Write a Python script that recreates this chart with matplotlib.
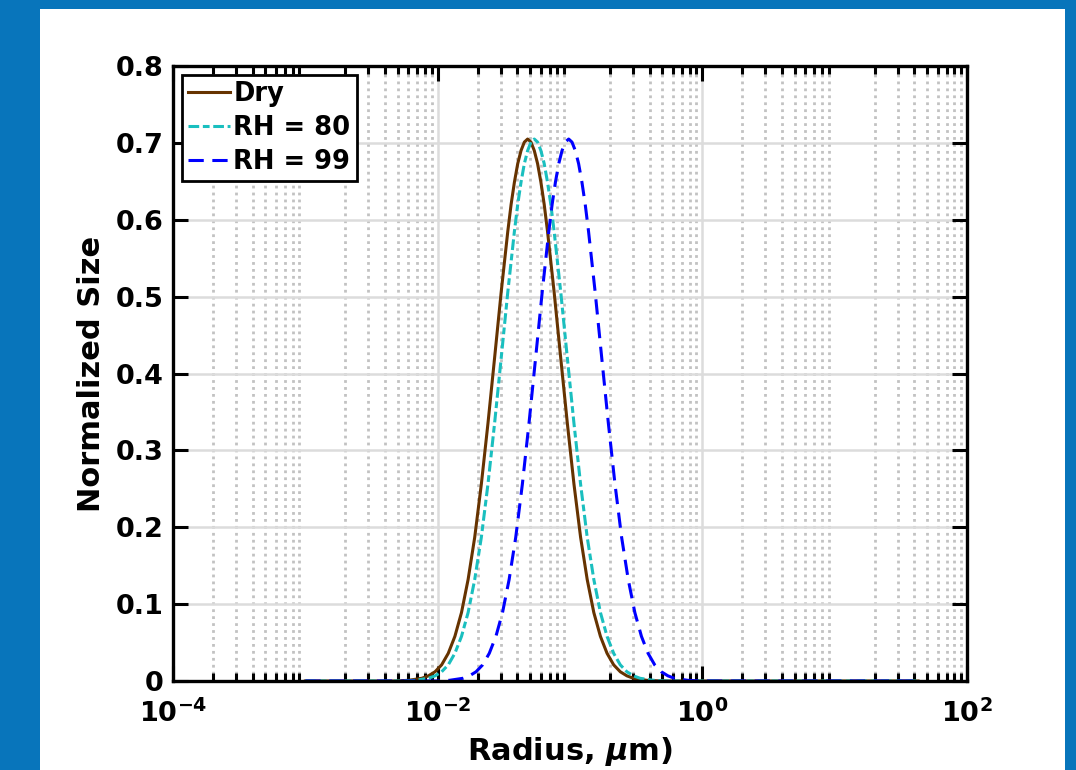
#!/usr/bin/env python3
"""Normalized aerosol size distribution: dry vs. humidified (RH = 80, 99)."""

import numpy as np
import matplotlib
matplotlib.use("Agg")
import matplotlib.pyplot as plt
from matplotlib.patches import Rectangle
from matplotlib.ticker import LogLocator, FuncFormatter

# ── Data (log10 of radius in um, normalized size) ────────────────────────────
size_norm = [0.0, 0.0, 0.0009, 0.0035, 0.0067, 0.012, 0.021, 0.036, 0.058,
             0.089, 0.132, 0.187, 0.256, 0.335, 0.420, 0.506, 0.585, 0.620,
             0.649, 0.673, 0.690, 0.701, 0.705, 0.701, 0.690, 0.673, 0.649,
             0.620, 0.585, 0.506, 0.420, 0.335, 0.256, 0.187, 0.132, 0.089,
             0.058, 0.036, 0.021, 0.012, 0.0067, 0.0035, 0.0009, 0.0, 0.0]

logr_dry = [-3.0, -2.32, -2.22, -2.12, -2.07, -2.02, -1.97, -1.92, -1.87,
            -1.82, -1.77, -1.72, -1.67, -1.62, -1.57, -1.52, -1.47, -1.445,
            -1.42, -1.395, -1.37, -1.345, -1.32, -1.295, -1.27, -1.245, -1.22,
            -1.195, -1.17, -1.12, -1.07, -1.02, -0.97, -0.92, -0.87, -0.82,
            -0.77, -0.72, -0.67, -0.62, -0.57, -0.52, -0.42, -0.32, 1.63]

logr_rh80 = [-3.0, -2.27, -2.17, -2.07, -2.02, -1.97, -1.92, -1.87, -1.82,
             -1.77, -1.72, -1.67, -1.62, -1.57, -1.52, -1.47, -1.42, -1.395,
             -1.37, -1.345, -1.32, -1.295, -1.27, -1.245, -1.22, -1.195, -1.17,
             -1.145, -1.12, -1.07, -1.02, -0.97, -0.92, -0.87, -0.82, -0.77,
             -0.72, -0.67, -0.62, -0.57, -0.52, -0.47, -0.37, -0.27, 1.63]

logr_rh99 = [-3.0, -2.01, -1.91, -1.81, -1.76, -1.71, -1.66, -1.61, -1.56,
             -1.51, -1.46, -1.41, -1.36, -1.31, -1.26, -1.21, -1.16, -1.135,
             -1.11, -1.085, -1.06, -1.035, -1.01, -0.985, -0.96, -0.935, -0.91,
             -0.885, -0.86, -0.81, -0.76, -0.71, -0.66, -0.61, -0.56, -0.51,
             -0.46, -0.41, -0.36, -0.31, -0.26, -0.21, -0.11, -0.01, 1.63]

labels = ["Dry", "RH = 80", "RH = 99"]
y_ticks = [0, 0.1, 0.2, 0.3, 0.4, 0.5, 0.6, 0.7, 0.8]

# ── Style ─────────────────────────────────────────────────────────────────────
plt.rcParams["font.family"] = ["DejaVu Sans"]
plt.rcParams["font.weight"] = "bold"
plt.rcParams["mathtext.fontset"] = "dejavusans"
plt.rcParams["mathtext.default"] = "bf"

fig = plt.figure(figsize=(10.76, 7.70), dpi=100, facecolor="#0875bb")
fig.patches.append(Rectangle((40 / 1076, 0), (1065 - 40) / 1076, (770 - 9) / 770,
                             transform=fig.transFigure, facecolor="white",
                             edgecolor="none", zorder=-5))

ax = fig.add_axes([173 / 1076, 89 / 770, 794 / 1076, 615 / 770])
ax.set_zorder(2)

ax.plot(10 ** np.array(logr_dry), size_norm, color="#663300", lw=2.2,
        label=labels[0], zorder=3)
ax.plot(10 ** np.array(logr_rh80), size_norm, color="#1abfbf", lw=2.2,
        ls=(0, (3.5, 1.2, 2.2, 1.2)), label=labels[1], zorder=4)
ax.plot(10 ** np.array(logr_rh99), size_norm, color="#0000ff", lw=2.2,
        ls=(0, (5, 2.8)), label=labels[2], zorder=5)

ax.set_xscale("log")
ax.set_xlim(1e-4, 1e2)
ax.set_ylim(0, 0.8)
ax.set_xticks([1e-4, 1e-2, 1e0, 1e2])
ax.xaxis.set_minor_locator(LogLocator(base=10, subs=np.arange(2, 10), numticks=20))
ax.set_yticks(y_ticks)
ax.yaxis.set_major_formatter(FuncFormatter(lambda v, _: "0" if v == 0 else f"{v:.1f}"))

# grid
ax.grid(which="major", color="#dcdcdc", lw=1.8, ls="-", zorder=0)
ax.grid(which="minor", axis="x", color="#c2c2c2", lw=2.0, ls=(0, (1, 1.5)), zorder=0)
ax.set_axisbelow(True)

# ticks / spines
ax.tick_params(which="both", direction="in", top=True, right=True,
               width=2.2, color="black", labelsize=19.5)
ax.tick_params(which="major", length=11, pad=7)
ax.tick_params(which="minor", length=6)
ax.tick_params(axis="x", which="major", pad=13)
for s in ax.spines.values():
    s.set_linewidth(2.4)
    s.set_zorder(6)

ax.set_ylabel("Normalized Size", fontsize=22, fontweight="bold", labelpad=7)
ax.set_xlabel(r"Radius, $\mathit{\mu}$m)", fontsize=22, fontweight="bold", labelpad=5)

leg = ax.legend(loc="upper left", fontsize=18.5, frameon=True, fancybox=False,
                edgecolor="black", framealpha=1, borderaxespad=0.35,
                borderpad=0.25, labelspacing=0.3, handlelength=1.6,
                handletextpad=0.15)
leg.get_frame().set_linewidth(2.0)
for t in leg.get_texts():
    t.set_fontweight("bold")

fig.savefig("out.png", dpi=100, facecolor=fig.get_facecolor())
